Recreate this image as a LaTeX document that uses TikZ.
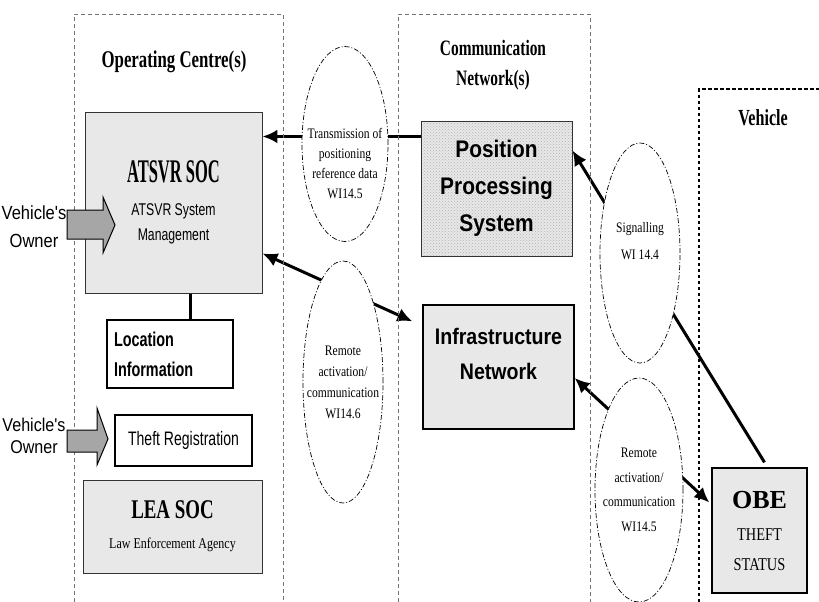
\documentclass[tikz,border=0pt]{standalone}
\usepackage{fontspec}
\setmainfont{Liberation Serif}
\newfontfamily\hdfont[FakeStretch=0.7]{Liberation Serif}
\newfontfamily\socfont[FakeStretch=0.5]{Liberation Serif}
\newfontfamily\rmn[FakeStretch=0.8]{Liberation Serif}
\newfontfamily\sfn[FakeStretch=0.72]{Liberation Sans}
\newfontfamily\sfm[FakeStretch=0.87]{Liberation Sans}
\usetikzlibrary{arrows.meta,shapes.geometric,patterns}

\pgfdeclarelayer{bg}
\pgfsetlayers{bg,main}

\newcommand{\fsz}[2]{\fontsize{#1}{#2}\selectfont}

\begin{document}
\begin{tikzpicture}[x=1pt,y=-1pt,
		region/.style={black!55,line width=0.8pt,dash pattern=on 4pt off 3pt},
		vregion/.style={black,line width=1.3pt,dash pattern=on 3.5pt off 2.5pt},
		title/.style={font=\hdfont\bfseries\fsz{23}{30},align=center},
		box/.style={draw=black!80,line width=0.9pt,fill=black!9,inner sep=0pt,align=center},
		wbox/.style={draw,line width=1.4pt,fill=white,inner sep=0pt},
		bubble/.style={ellipse,draw,fill=white,line width=0.7pt,dash pattern=on 5pt off 2pt on 1pt off 2pt,inner sep=0pt},
		btext/.style={font=\rmn\fsz{14.5}{20},align=center},
		owner/.style={draw,line width=1pt,fill=black!35},
		ownertext/.style={font=\sfm\fsz{19}{28},align=center},
		conn/.style={line width=3pt},
		>={Latex[length=15pt,width=14pt]}]
	\useasboundingbox (0,0) rectangle (819,602);
	%% define regions
	\draw[region] (74,602) -- (74,14) -- (283,14) -- (283,602);
	\draw[region] (398,602) -- (398,14) -- (590,14) -- (590,602);
	\draw[vregion] (699,602) -- (699,89) -- (819,89);
	\node[title,font=\hdfont\bfseries\fsz{24}{30}] (octitle) at (174,62) {Operating Centre(s)};
	\node[title,font=\hdfont\bfseries\fsz{22}{30}] (cntitle) at (493,65) {Communication\\Network(s)};
	\node[title] (vtitle) at (763,118) {Vehicle};
	%% define boxes
	\node[box,minimum width=177pt,minimum height=181pt,font=\sfn\fsz{17}{25}] (soc) at (173.5,202.5)
		{{\socfont\bfseries\fsz{33}{36}ATSVR SOC}\\[8pt]ATSVR System\\Management};
	\node[wbox,minimum width=126pt,minimum height=68pt,align=left,text width=112pt,font=\sfn\bfseries\fsz{20}{30}] (loc) at (170,354) {Location\\Information};
	\node[wbox,minimum width=137pt,minimum height=51pt,font=\sfn\fsz{19.5}{24}] (theft) at (183.5,440.5) {Theft Registration};
	\node[box,minimum width=179pt,minimum height=93pt,font=\rmn\fsz{15}{28}] (lea) at (172.5,526.5)
		{{\hdfont\bfseries\fsz{27}{30}LEA SOC}\\[2pt]Law Enforcement Agency};
	\node[box,preaction={fill=black!9},pattern=crosshatch dots,pattern color=black!30,minimum width=151pt,minimum height=135pt,font=\sfm\bfseries\fsz{24}{37}] (pps) at (496.5,188.5) {Position\\Processing\\System};
	\node[box,draw=black,line width=1.3pt,minimum width=151pt,minimum height=124pt,
		label={[font=\sfm\bfseries\fsz{22.5}{35},align=center,yshift=13pt]center:Infrastructure\\Network}] (infra) at (498.5,367) {};
	\node[box,draw=black,line width=1.3pt,minimum width=95pt,minimum height=125pt,font=\rmn\fsz{18}{30}] (obe) at (759.5,530.5)
		{{\rmfamily\bfseries\fsz{26}{30}OBE}\\[2pt]THEFT\\STATUS};
	%% vehicle's owner
	\draw[owner] (67,210) -- (103,210) -- (103,197) -- (115,225) -- (103,253) -- (103,239) -- (67,239) -- cycle;
	\draw[owner] (67,430) -- (97,430) -- (97,408) -- (108,439) -- (97,465) -- (97,452) -- (67,452) -- cycle;
	\node[ownertext] (owner1) at (34,227) {Vehicle's\\Owner};
	\node[ownertext,font=\sfm\fsz{18.5}{22}] (owner2) at (34,436) {Vehicle's\\Owner};
	%% define bubbles
	\node[bubble,minimum width=86pt,minimum height=195pt,
		label={[btext,yshift=-20pt]center:Transmission of\\positioning\\reference data\\WI14.5}] (tx) at (345,144) {};
	\node[bubble,minimum width=80pt,minimum height=242pt,
		label={[btext,font=\rmn\fsz{14.5}{21}]center:Remote\\activation/\\communication\\WI14.6}] (ra1) at (343,382) {};
	\node[bubble,minimum width=80pt,minimum height=220pt,
		label={[btext,font=\rmn\fsz{14.5}{27},yshift=12pt]center:Signalling\\WI 14.4}] (sig) at (640,253) {};
	\node[bubble,minimum width=88pt,minimum height=224pt,
		label={[btext,font=\rmn\fsz{14.5}{24.5}]center:Remote\\activation/\\communication\\WI14.5}] (ra2) at (639,490) {};
	%% define arrows
	\begin{pgfonlayer}{bg}
		\draw[conn,->] ([yshift=52pt]pps.west) -- ([yshift=52pt]pps.west -| soc.east);
		\draw[conn,<->] ([yshift=40pt]soc.south east) -- ([xshift=-10pt,yshift=-17pt]infra.north west);
		\draw[conn,->] ([xshift=5pt,yshift=5pt]obe.north) -- ([yshift=38pt]pps.east);
		\draw[conn,<->] ([yshift=-11pt]infra.east) -- ([xshift=-2pt,yshift=28pt]obe.west);
		\draw[conn] ([xshift=20pt]loc.north) -- ([xshift=20pt]loc.north |- soc.south);
	\end{pgfonlayer}
\end{tikzpicture}
\end{document}
